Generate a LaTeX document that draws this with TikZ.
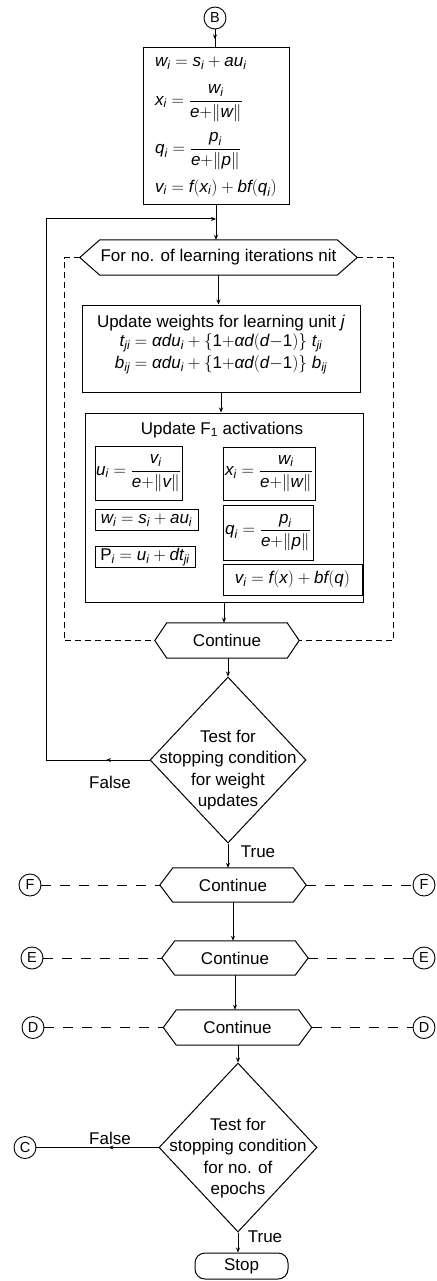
\documentclass[tikz,border=0pt]{standalone}
\usepackage{amsmath}
\usepackage{fontspec}
\setmainfont{Liberation Sans}
\usetikzlibrary{arrows.meta,calc,shapes.geometric,decorations.markings}
\newcommand{\mt}[1]{\textit{#1}}
\newcommand{\ix}[2]{\mt{#1}_{\mt{#2}}}
\newcommand{\fsz}{\fontsize{17}{20}\selectfont}
\newcommand{\csz}{\fontsize{14.5}{16}\selectfont}
\newcommand{\hexa}[7]{%
  \node[hexbody, minimum width=#4, minimum height=#5] (#1) at (#2,#3) {#7};
  \coordinate (#1-l) at ($(#1.west)+(-#6,0)$);
  \coordinate (#1-r) at ($(#1.east)+(#6,0)$);
  \draw[conn] (#1.north west) -- (#1.north east) -- (#1-r) -- (#1.south east)
     -- (#1.south west) -- (#1-l) -- cycle;}
\tikzset{
  every node/.style={font=\fsz},
  conn/.style={line width=1pt, line join=miter},
  arr/.style={conn,-{Stealth[length=5pt,width=4pt]}},
  midarr/.style={conn, postaction={decorate}, decoration={markings,
     mark=at position #1 with {\arrow{Stealth[length=5pt,width=4pt]}}}},
  midarr/.default=0.55,
  dsh/.style={conn, dash pattern=on 10pt off 9pt},
  dshloop/.style={conn, dash pattern=on 6pt off 4pt},
  box/.style={draw, line width=1pt, inner sep=0pt},
  hexbody/.style={inner sep=0pt},
  conc/.style={circle, draw, line width=0.9pt, minimum size=22pt, inner sep=0pt, font=\csz},
  txt/.style={inner sep=0pt},
  dtext/.style={inner sep=0pt, align=center, font=\fontsize{17}{21.5}\selectfont},
}
\begin{document}
\begin{tikzpicture}[x=1pt,y=-1pt]
\useasboundingbox (0,0) rectangle (436,1281);

% connector B and top box
\node[conc] (B) at (215,18) {B};
\node[box, minimum width=146, minimum height=157] (top) at (216,126.5) {};
\node[txt, anchor=west] (t1) at (155,63) {$\ix{w}{i} = \ix{s}{i} + \mt{a}\ix{u}{i}$};
\node[txt, anchor=west] (t2) at (155,103) {$\ix{x}{i} = \dfrac{\ix{w}{i}}{\mt{e}{+}\|\mt{w}\|}$};
\node[txt, anchor=west] (t3) at (155,151) {$\ix{q}{i} = \dfrac{\ix{p}{i}}{\mt{e}{+}\|\mt{p}\|}$};
\node[txt, anchor=west] (t4) at (155,188) {$\ix{v}{i} = \mt{f}(\ix{x}{i}) + \mt{bf}(\ix{q}{i})$};

% For-loop hexagon
\hexa{forh}{218.5}{257.5}{237}{35}{20}{For no. of learning iterations nit}

% Update weights box
\node[box, minimum width=278, minimum height=87] (uw) at (221,348.5) {};
\node[txt] (uw1) at (221,323) {Update weights for learning unit \textit{j}};
\node[txt] (uw2) at (221,343) {$\ix{t}{ji} = \mt{αd}\ix{u}{i} + \{\text{1}{+}\mt{αd}(\mt{d}{-}\text{1})\}\;\ix{t}{ji}$};
\node[txt] (uw3) at (221,365) {$\ix{b}{ij} = \mt{αd}\ix{u}{i} + \{\text{1}{+}\mt{αd}(\mt{d}{-}\text{1})\}\;\ix{b}{ij}$};

% Update F1 box
\node[box, minimum width=278, minimum height=189] (f1) at (224,507.5) {};
\node[txt] (f1t) at (222,430) {Update F\textsubscript{1} activations};
\node[box, minimum width=87, minimum height=54] (ub) at (138.5,473) {$\ix{u}{i} = \dfrac{\ix{v}{i}}{\mt{e}{+}\|\mt{v}\|}$};
\node[box, minimum width=103, minimum height=21] (wb) at (146.5,520) {$\ix{w}{i} = \ix{s}{i} + \mt{a}\ix{u}{i}$};
\node[box, minimum width=100, minimum height=21] (pb) at (145,557) {$\text{P}_{\mt{i}} = \ix{u}{i} + \mt{d}\ix{t}{ji}$};
\node[box, minimum width=92, minimum height=53] (xb) at (269,473.5) {$\ix{x}{i} = \dfrac{\ix{w}{i}}{\mt{e}{+}\|\mt{w}\|}$};
\node[box, minimum width=90, minimum height=55] (qb) at (268,532.5) {$\ix{q}{i} = \dfrac{\ix{p}{i}}{\mt{e}{+}\|\mt{p}\|}$};
\node[box, minimum width=139, minimum height=31] (vb) at (292.5,579.5) {$\ix{v}{i} = \mt{f}(\mt{x}) + \mt{bf}(\mt{q})$};

% Continue 1
\hexa{c1}{227}{640.5}{120}{35}{12}{Continue}

% Diamond 1
\node[diamond, draw, line width=1pt, minimum width=156, minimum height=166, inner sep=0pt] (d1) at (228,760) {};
\node[dtext] (d1t) at (228,770) {Test for\\stopping condition\\for weight\\updates};

% Continue F, E, D
\hexa{cF}{233}{885}{120}{34}{13}{Continue}
\hexa{cE}{235}{958}{120}{34}{13}{Continue}
\hexa{cD}{237.5}{1027.5}{122}{35}{13}{Continue}
\node[conc] (Fl) at (30,885) {F};
\node[conc] (Fr) at (424,885) {F};
\node[conc] (El) at (32,958) {E};
\node[conc] (Er) at (424,958) {E};
\node[conc] (Dl) at (33,1027.5) {D};
\node[conc] (Dr) at (424,1027.5) {D};

% Diamond 2
\node[diamond, draw, line width=1pt, minimum width=158, minimum height=169, inner sep=0pt] (d2) at (238,1147.5) {};
\node[dtext] (d2t) at (238,1158) {Test for\\stopping condition\\for no. of\\epochs};
\node[conc] (C) at (25,1147.5) {C};

% Stop
\node[draw, rounded corners=10pt, line width=1pt, minimum width=93, minimum height=26, inner sep=0pt] (stop) at (241.5,1266) {Stop};

% labels
\node[txt] (lf1) at (110,782) {False};
\node[txt] (lt1) at (258,852) {True};
\node[txt] (lf2) at (110,1138) {False};
\node[txt] (lt2) at (265,1237) {True};

% connectors
\coordinate (lc) at (46,219);
\coordinate (dl) at (64,0);
\coordinate (dr) at (393,0);
\draw[midarr] (B.south) -- (B.south |- top.north);
\draw[arr] (top.south) -- (top.south |- forh.north);
\draw[midarr=0.42] (d1.west) -- (d1.west -| lc);
\draw[arr] (d1.west -| lc) -- (lc) -- (top.south |- lc);
\draw[arr] (forh.south) -- (forh.south |- uw.north);
\draw[arr] (uw.south) -- (uw.south |- f1.north);
\draw[arr] (f1.south) -- (f1.south |- c1.north);
\draw[arr] (c1.south -| d1.north) -- (d1.north);
\draw[arr] (d1.south) -- (d1.south |- cF.north);
\draw[arr] (cF.south) -- (cF.south |- cE.north);
\draw[arr] (cE.south) -- (cE.south |- cD.north);
\draw[arr] (cD.south -| d2.north) -- (d2.north);
\draw[midarr=0.41] (d2.west) -- (C.east);
\draw[arr] (d2.south) -- (d2.south |- stop.north);

\draw[dshloop] (forh-l) -- (forh-l -| dl) |- (c1-l);
\draw[dshloop] (forh-r) -- (forh-r -| dr) |- (c1-r);
\draw[dsh] (Fl.east) -- (cF-l);
\draw[dsh] (cF-r) -- (Fr.west);
\draw[dsh] (El.east) -- (cE-l);
\draw[dsh] (cE-r) -- (Er.west);
\draw[dsh] (Dl.east) -- (cD-l);
\draw[dsh] (cD-r) -- (Dr.west);
\end{tikzpicture}
\end{document}
